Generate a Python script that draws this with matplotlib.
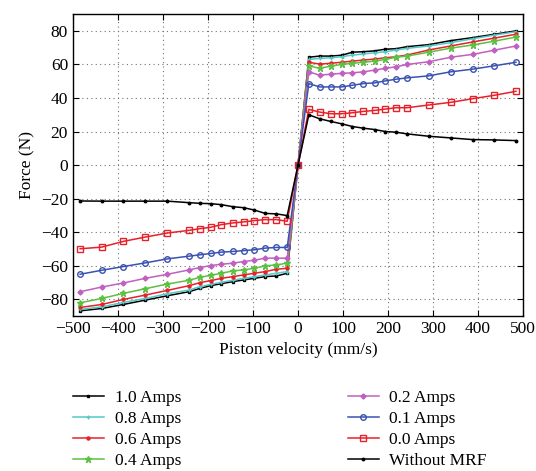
import matplotlib
matplotlib.use('Agg')
import matplotlib.pyplot as plt

# Piston velocity (mm/s)
velocity = [-484, -436, -388, -339, -290, -242, -218, -194, -170, -145, -121, -97, -73, -48, -24,
            0,
            24, 48, 73, 97, 121, 145, 170, 194, 218, 242, 290, 339, 388, 436, 484]

# Force (N) for each current
force_10 = [-86.9, -85.5, -83.1, -80.5, -77.9, -75.5, -73.5, -71.9, -70.7, -69.5, -68.5, -67.5, -66.5, -66.1, -64.5,
            0,
            64.3, 65.0, 65.0, 65.5, 67.3, 67.6, 68.1, 69.1, 69.4, 70.6, 71.8, 74.2, 76.0, 78.0, 80.0]
force_08 = [-86.1, -84.5, -81.9, -79.5, -76.7, -74.5, -72.5, -71.1, -69.9, -68.7, -67.5, -66.5, -65.5, -64.5, -63.5,
            0,
            63.0, 63.6, 64.0, 64.6, 65.6, 66.2, 67.0, 67.6, 68.6, 69.6, 71.0, 73.0, 75.3, 77.5, 79.5]
force_06 = [-84.9, -83.1, -80.1, -77.5, -74.7, -71.9, -70.1, -68.9, -67.5, -66.5, -65.5, -64.5, -63.5, -62.1, -61.5,
            0,
            61.3, 60.2, 60.7, 61.3, 62.0, 62.6, 63.2, 64.0, 64.6, 65.6, 68.6, 71.0, 73.4, 75.7, 78.0]
force_04 = [-82.1, -79.5, -76.5, -73.7, -70.9, -68.7, -66.9, -65.7, -64.5, -63.1, -62.5, -61.5, -60.1, -59.5, -58.5,
            0,
            59.2, 57.7, 59.0, 60.0, 60.7, 61.3, 62.0, 63.0, 64.3, 65.0, 67.3, 69.7, 71.6, 73.9, 76.3]
force_02 = [-75.5, -72.7, -70.3, -67.5, -65.1, -62.5, -61.1, -59.9, -59.1, -58.5, -57.5, -56.7, -55.5, -55.5, -55.5,
            0,
            55.6, 53.6, 54.2, 54.7, 55.0, 55.6, 56.6, 57.7, 58.6, 60.0, 61.6, 64.3, 66.0, 68.5, 71.0]
force_01 = [-65.1, -62.7, -60.5, -58.3, -55.9, -54.3, -53.5, -52.7, -51.9, -51.5, -51.0, -50.5, -49.5, -49.1, -49.1,
            0,
            48.6, 46.6, 46.6, 46.6, 47.6, 48.6, 49.0, 50.2, 51.2, 52.0, 53.2, 55.6, 57.2, 59.2, 61.3]
force_00 = [-49.9, -48.9, -45.5, -42.9, -40.5, -38.9, -37.9, -37.1, -35.5, -34.5, -33.9, -33.1, -32.5, -32.5, -33.5,
            0,
            33.2, 31.6, 30.6, 30.6, 31.2, 32.0, 32.6, 33.4, 34.2, 34.2, 35.8, 37.4, 39.6, 41.6, 44.0]
force_nomrf = [-21.4, -21.5, -21.5, -21.5, -21.5, -22.4, -22.8, -23.0, -23.6, -24.8, -25.4, -26.8, -28.8, -29.1, -30.1,
               0,
               30.0, 27.6, 26.0, 24.6, 23.0, 22.0, 21.2, 20.0, 19.6, 18.6, 17.2, 16.2, 15.2, 15.0, 14.6]

labels = ['1.0 Amps', '0.8 Amps', '0.6 Amps', '0.4 Amps',
          '0.2 Amps', '0.1 Amps', '0.0 Amps', 'Without MRF']

plt.rcParams['font.family'] = ['Liberation Serif', 'DejaVu Serif']
plt.rcParams['font.size'] = 12.5

fig = plt.figure(figsize=(5.36, 4.71), dpi=100)
ax = fig.add_axes([0.136, 0.329, 0.840, 0.641])

series = [
    (force_10, dict(color='black', marker='s', ms=2, mfc='black')),
    (force_08, dict(color='#55c8c8', marker='+', ms=3.5)),
    (force_06, dict(color='#e8202a', marker='o', ms=2.2)),
    (force_04, dict(color='#5cc040', marker='*', ms=4.5)),
    (force_02, dict(color='#c060c0', marker='D', ms=2.6)),
    (force_01, dict(color='#3a52b0', marker='o', ms=4, mfc='none', mew=1.0)),
    (force_00, dict(color='#e8202a', marker='s', ms=4, mfc='none', mew=1.0)),
    (force_nomrf, dict(color='black', marker='o', ms=1.8)),
]

for (vals, style), lab in zip(series, labels):
    ax.plot(velocity, vals, lw=1.1, label=lab, **style)

ax.set_xlim(-500, 500)
ax.set_ylim(-90, 90)
ax.set_xticks(range(-500, 501, 100))
ax.set_yticks(range(-80, 81, 20))
ax.tick_params(direction='in', top=True, right=True, length=4, labelsize=12.5)
ax.grid(True, linestyle=(0, (1, 3)), color='0.45', linewidth=0.8)
for s in ax.spines.values():
    s.set_linewidth(1.0)

ax.set_xlabel('Piston velocity (mm/s)', fontsize=12.5)
ax.set_ylabel('Force (N)', fontsize=12.5)

fig.legend(loc='upper left', bbox_to_anchor=(0.123, 0.186), ncol=2, frameon=False,
           fontsize=12.5, handlelength=1.8, columnspacing=9.6, labelspacing=0.27,
           handletextpad=0.6, borderaxespad=0)

fig.savefig('out.png', dpi=100)
